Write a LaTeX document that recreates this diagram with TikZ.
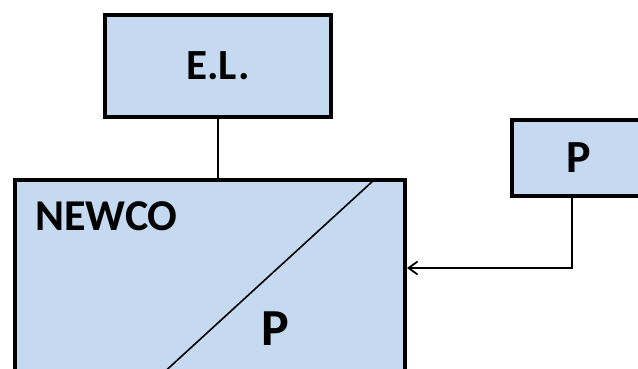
\documentclass[tikz,border=0pt]{standalone}
\usepackage{fontspec}
\setmainfont{Carlito}
\usetikzlibrary{arrows.meta}

\definecolor{boxblue}{RGB}{197,217,241}

\tikzset{
  entity/.style={draw=black, line width=4pt, fill=boxblue, inner sep=0pt,
    font=\fontsize{43}{48}\selectfont\bfseries},
  tag/.style={anchor=base west, inner sep=0pt},
  link/.style={line width=1.4pt},
}

\begin{document}
\begin{tikzpicture}[x=1pt, y=-1pt]
  	\clip (0, 0) rectangle (638, 369);

  	% the three boxes
  	\node[entity, minimum width=226pt, minimum height=102pt] (el) at (218, 66) {E.L.};
  	\node[entity, minimum width=390pt, minimum height=300pt] (newco) at (210, 330) {};
  	\node[entity, minimum width=134pt, minimum height=76pt,
  	      font=\fontsize{46}{52}\selectfont\bfseries] (owner) at (579, 158) {P};

  	% split of the big box
  	\draw[line width=1.6pt] (374, 180) -- (136, 398);

  	\node[tag, font=\fontsize{44}{48}\selectfont\bfseries] (newcolabel) at (35, 230) {NEWCO};
  	\node[tag, font=\fontsize{52}{58}\selectfont\bfseries] (sharelabel) at (261, 345) {P};

  	% connectors
  	\draw[link] (el.south) -- (newco.north -| el.south);
  	\coordinate (bend) at (572, 268);
  	\draw[link, -{Straight Barb[length=9pt, width=13pt, line width=1.8pt]}]
  	  (owner.south -| bend) -- (bend) -- (newco.east |- bend);
\end{tikzpicture}
\end{document}
